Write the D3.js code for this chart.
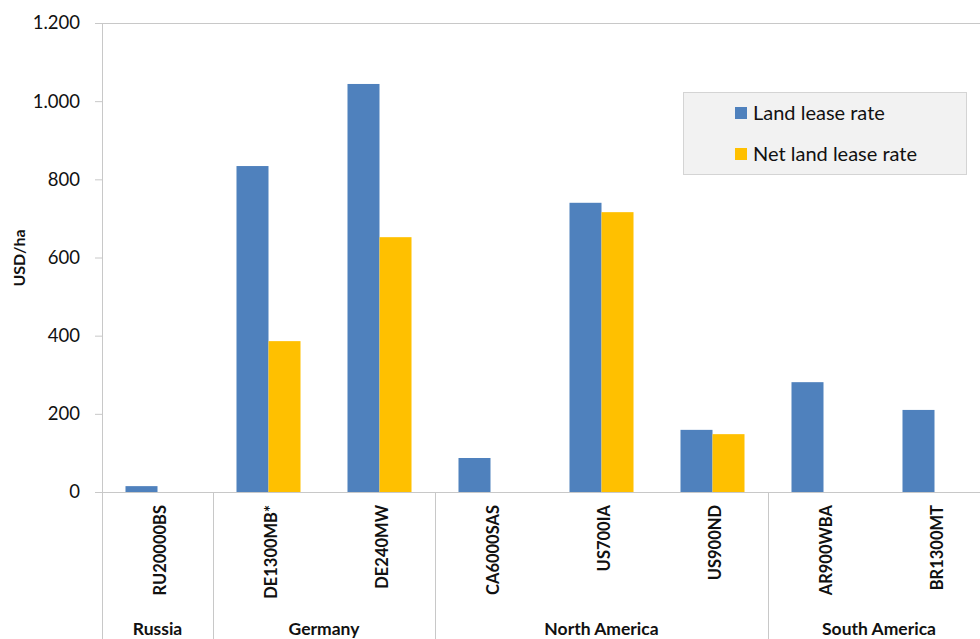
<!DOCTYPE html>
<html>
<head>
<meta charset="utf-8">
<script src="https://cdn.jsdelivr.net/npm/d3@7"></script>
<style>
  html, body { margin: 0; padding: 0; background: #fff; }
  svg { display: block; font-family: Lato, "Open Sans", sans-serif; }
</style>
</head>
<body>
<svg id="chart" width="980" height="639"></svg>
<script>
const categories = ["RU20000BS", "DE1300MB*", "DE240MW", "CA6000SAS", "US700IA", "US900ND", "AR900WBA", "BR1300MT"];
const regions = [
  { name: "Russia", start: 0, end: 1 },
  { name: "Germany", start: 1, end: 3 },
  { name: "North America", start: 3, end: 6 },
  { name: "South America", start: 6, end: 8 }
];
const seriesNames = ["Land lease rate", "Net land lease rate"];
const landLease = [15, 834, 1044, 87, 740, 159, 281, 210];
const netLandLease = [null, 386, 652, null, 716, 148, null, null];
const yTicks = [0, 200, 400, 600, 800, 1000, 1200];
const colors = ["#4f81bd", "#ffc000"];

(function () {
const svg = d3.select("#chart");
const pLeft = 102, pRight = 990, pTop = 23, pBottom = 492;

const x0 = d3.scaleBand().domain(categories).range([pLeft, pRight]).padding(0);
const x1 = d3.scaleBand().domain(seriesNames).range([0, x0.bandwidth()])
  .paddingInner(0).paddingOuter(0.734);
const y = d3.scaleLinear().domain([0, 1200]).range([pBottom, pTop]);

const de = d3.formatLocale({ decimal: ",", thousands: ".", grouping: [3], currency: ["", "€"] });
const fmt = de.format(",");

const gridColor = "#c8c8c8";
const textColor = "#111";

// top line
svg.append("line").attr("x1", 95).attr("x2", 980).attr("y1", y(1200) + 0.5).attr("y2", y(1200) + 0.5)
  .attr("stroke", gridColor).attr("stroke-width", 1);

// Y axis
const yAxis = d3.axisLeft(y).tickValues(yTicks).tickFormat(fmt).tickSize(7).tickSizeOuter(0);
const ya = svg.append("g").attr("transform", `translate(${pLeft},0)`).call(yAxis);
ya.select(".domain").attr("stroke", gridColor);
ya.selectAll(".tick line").attr("stroke", gridColor);
ya.selectAll(".tick text").attr("font-size", 18.5).attr("fill", textColor).attr("x", -22)
  .attr("font-family", "Lato, 'Open Sans', sans-serif");

// vertical axis extension below
svg.append("line").attr("x1", pLeft + 0.5).attr("x2", pLeft + 0.5).attr("y1", pBottom).attr("y2", 639)
  .attr("stroke", gridColor);

// bars
const data = [landLease, netLandLease];
seriesNames.forEach((s, si) => {
  svg.append("g").selectAll("rect")
    .data(categories.map((c, i) => ({ c, v: data[si][i] })).filter(d => d.v != null))
    .join("rect")
    .attr("x", d => x0(d.c) + x1(s))
    .attr("y", d => y(d.v))
    .attr("width", x1.bandwidth())
    .attr("height", d => y(0) - y(d.v))
    .attr("fill", colors[si]);
});

// baseline
svg.append("line").attr("x1", 95).attr("x2", 980).attr("y1", pBottom + 0.5).attr("y2", pBottom + 0.5)
  .attr("stroke", gridColor);

// region separators and labels
regions.forEach(r => {
  const xs = Math.round(x0.step() * r.end + pLeft) + 0.5;
  if (r.end < categories.length) {
    svg.append("line").attr("x1", xs).attr("x2", xs).attr("y1", pBottom).attr("y2", 639)
      .attr("stroke", gridColor);
  }
  const xc = pLeft + x0.step() * (r.start + r.end) / 2;
  svg.append("text").attr("x", xc).attr("y", 635).attr("text-anchor", "middle")
    .attr("font-size", 17.5).attr("font-weight", "bold").attr("fill", textColor).text(r.name);
});

// category labels
categories.forEach(c => {
  const xc = x0(c) + x0.bandwidth() / 2;
  svg.append("text")
    .attr("transform", `translate(${xc + 8},505) rotate(-90)`)
    .attr("text-anchor", "end")
    .attr("font-size", 16.5).attr("font-weight", "bold").attr("fill", textColor)
    .text(c);
});

// y title
svg.append("text").attr("transform", "translate(25,258) rotate(-90)")
  .attr("text-anchor", "middle").attr("font-size", 16).attr("font-weight", "bold")
  .attr("fill", textColor).text("USD/ha");

// legend
const lg = svg.append("g");
lg.append("rect").attr("x", 683.5).attr("y", 92.5).attr("width", 283).attr("height", 82)
  .attr("fill", "#f2f2f2").attr("stroke", "#d4d4d4");
seriesNames.forEach((s, i) => {
  const cy = 113 + i * 41;
  lg.append("rect").attr("x", 735).attr("y", cy - 6).attr("width", 12).attr("height", 12).attr("fill", colors[i]);
  lg.append("text").attr("x", 753).attr("y", cy + 7).attr("font-size", 20).attr("fill", textColor).text(s);
});
})();
</script>
</body>
</html>
